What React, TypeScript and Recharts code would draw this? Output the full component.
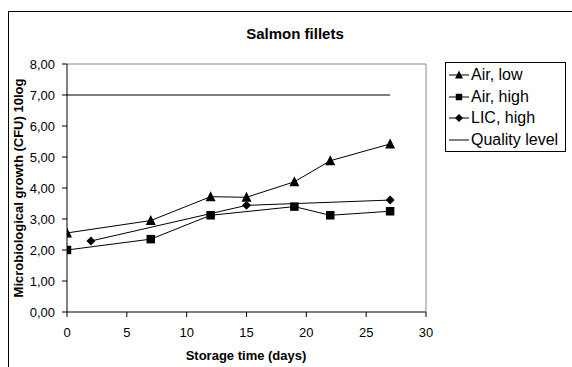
import React from 'react';
import { LineChart, Line, XAxis, YAxis, ReferenceLine } from 'recharts';

const airLow = [
  { x: 0, y: 2.55 },
  { x: 7, y: 2.95 },
  { x: 12, y: 3.72 },
  { x: 15, y: 3.7 },
  { x: 19, y: 4.2 },
  { x: 22, y: 4.88 },
  { x: 27, y: 5.42 },
];
const airHigh = [
  { x: 0, y: 2.0 },
  { x: 7, y: 2.35 },
  { x: 12, y: 3.12 },
  { x: 19, y: 3.4 },
  { x: 22, y: 3.12 },
  { x: 27, y: 3.25 },
];
const licHigh = [
  { x: 2, y: 2.29 },
  { x: 15, y: 3.44 },
  { x: 27, y: 3.61 },
];
const qualityLevel = [
  { x: 0, y: 7 },
  { x: 27, y: 7 },
];
const xTicks = [0, 5, 10, 15, 20, 25, 30];
const yTicks = [0, 1, 2, 3, 4, 5, 6, 7, 8];
const legendNames = ['Air, low', 'Air, high', 'LIC, high', 'Quality level'];

const FONT = '"Liberation Sans", Arial, sans-serif';

const tri = (cx: number, cy: number, s: number) =>
  `M${cx},${cy - s * 0.55} L${cx + s / 2},${cy + s * 0.45} L${cx - s / 2},${cy + s * 0.45} Z`;
const sq = (cx: number, cy: number, s: number) =>
  `M${cx - s / 2},${cy - s / 2} h${s} v${s} h${-s} Z`;
const dia = (cx: number, cy: number, s: number) =>
  `M${cx},${cy - s / 2} L${cx + s / 2},${cy} L${cx},${cy + s / 2} L${cx - s / 2},${cy} Z`;

const makeDot = (kind: string) => (props: any) => {
  const { cx, cy, index } = props;
  if (cx == null || cy == null) return <g key={`n-${kind}-${index}`} />;
  let d = '';
  if (kind === 'tri') d = tri(cx, cy, 10);
  else if (kind === 'sq') d = sq(cx, cy, 8.5);
  else d = dia(cx, cy, 9);
  return <path key={`${kind}-${index}`} d={d} fill="#000" stroke="none" />;
};

const fmt = (v: number) => v.toFixed(2).replace('.', ',');

const LegendIcon = ({ kind }: { kind: string }) => (
  <svg width={20} height={12} style={{ display: 'block' }}>
    <line x1={0} y1={6} x2={20} y2={6} stroke="#000" strokeWidth={1} />
    {kind === 'tri' && <path d={tri(10, 6, 8)} fill="#000" />}
    {kind === 'sq' && <path d={sq(10, 6, 6.5)} fill="#000" />}
    {kind === 'dia' && <path d={dia(10, 6, 8)} fill="#000" />}
  </svg>
);

export default function App() {
  const kinds = ['tri', 'sq', 'dia', 'none'];
  return (
    <div
      style={{
        position: 'fixed',
        left: 0,
        top: 0,
        width: 572,
        height: 367,
        overflow: 'hidden',
        background: '#fff',
        fontFamily: FONT,
      }}
    >
      <div
        style={{
          position: 'absolute',
          left: 8,
          top: 11,
          width: 600,
          height: 400,
          border: '1px solid #000',
        }}
      />
      <div style={{ position: 'absolute', left: 0, top: 0 }}>
        <LineChart
          width={572}
          height={367}
          margin={{ top: 64, right: 146, left: 0, bottom: 25 }}
        >
          <XAxis
            dataKey="x"
            type="number"
            domain={[0, 30]}
            ticks={xTicks}
            allowDataOverflow
            stroke="#000"
            tickSize={5}
            tickMargin={11}
            height={30}
            tick={{ fill: '#000', fontSize: 13, fontFamily: FONT }}
            tickLine={{ stroke: '#000' }}
          />
          <YAxis
            type="number"
            domain={[0, 8]}
            ticks={yTicks}
            allowDataOverflow
            width={67}
            stroke="#000"
            tickSize={5}
            tickMargin={7}
            tickFormatter={fmt}
            tick={{ fill: '#000', fontSize: 13, fontFamily: FONT }}
            tickLine={{ stroke: '#000' }}
          />
          <ReferenceLine y={8} stroke="#888" strokeWidth={1} />
          <ReferenceLine x={30} stroke="#888" strokeWidth={1} />
          <Line
            data={qualityLevel}
            dataKey="y"
            stroke="#000"
            strokeWidth={1}
            dot={false}
            isAnimationActive={false}
          />
          <Line
            data={licHigh}
            dataKey="y"
            stroke="#000"
            strokeWidth={1}
            dot={makeDot('dia')}
            isAnimationActive={false}
          />
          <Line
            data={airHigh}
            dataKey="y"
            stroke="#000"
            strokeWidth={1}
            dot={makeDot('sq')}
            isAnimationActive={false}
          />
          <Line
            data={airLow}
            dataKey="y"
            stroke="#000"
            strokeWidth={1}
            dot={makeDot('tri')}
            isAnimationActive={false}
          />
        </LineChart>
      </div>
      <div
        style={{
          position: 'absolute',
          left: 195,
          width: 200,
          top: 25,
          textAlign: 'center',
          fontWeight: 'bold',
          fontSize: 15,
          lineHeight: '18px',
        }}
      >
        Salmon fillets
      </div>
      <div
        style={{
          position: 'absolute',
          left: 146,
          width: 200,
          top: 348,
          textAlign: 'center',
          fontWeight: 'bold',
          fontSize: 13,
          lineHeight: '16px',
        }}
      >
        Storage time (days)
      </div>
      <div
        style={{
          position: 'absolute',
          left: 19 - 150,
          width: 300,
          top: 188 - 8,
          textAlign: 'center',
          fontWeight: 'bold',
          fontSize: 13,
          lineHeight: '16px',
          transform: 'rotate(-90deg)',
          transformOrigin: '50% 50%',
        }}
      >
        Microbiological growth (CFU) 10log
      </div>
      <div
        style={{
          position: 'absolute',
          left: 445,
          top: 62,
          width: 121,
          height: 90,
          border: '1px solid #000',
          boxSizing: 'border-box',
        }}
      >
        {legendNames.map((name, i) => (
          <div
            key={name}
            style={{
              position: 'absolute',
              left: 3,
              top: 2 + i * 21.7,
              height: 20,
              display: 'flex',
              alignItems: 'center',
              whiteSpace: 'nowrap',
            }}
          >
            <LegendIcon kind={kinds[i]} />
            <span style={{ marginLeft: 2, fontSize: 16, lineHeight: '20px' }}>{name}</span>
          </div>
        ))}
      </div>
    </div>
  );
}
